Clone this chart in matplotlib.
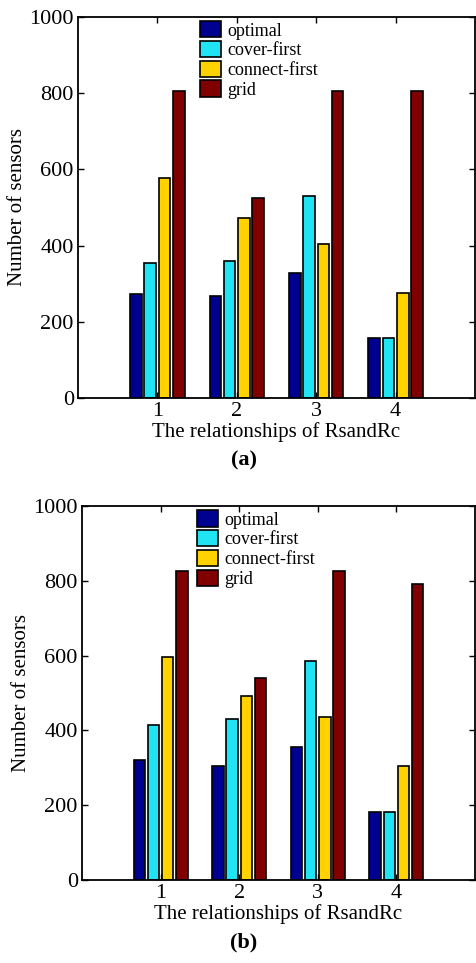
import numpy as np
import matplotlib.pyplot as plt

groups = [1, 2, 3, 4]
series = ["optimal", "cover-first", "connect-first", "grid"]
colors = ["#000090", "#20E4F4", "#FFD200", "#800000"]

# panel (a)
vals_a = {
    "optimal": [273, 268, 327, 157],
    "cover-first": [355, 360, 529, 157],
    "connect-first": [578, 472, 403, 276],
    "grid": [805, 525, 805, 805],
}
# panel (b)
vals_b = {
    "optimal": [320, 305, 356, 183],
    "cover-first": [415, 430, 586, 183],
    "connect-first": [595, 493, 436, 305],
    "grid": [827, 540, 827, 791],
}

plt.rcParams['font.family'] = ['Liberation Serif', 'DejaVu Serif']

fig = plt.figure(figsize=(4.76, 9.63), dpi=100)
W, H = 476, 963


def panel(rect, vals, tag, tag_y, leg_x):
    l, t, r, b = rect
    ax = fig.add_axes([l / W, 1 - b / H, (r - l) / W, (b - t) / H])
    x = np.array(groups, dtype=float)
    offsets = [-0.27, -0.09, 0.09, 0.27]
    for name, off, c in zip(series, offsets, colors):
        ax.bar(x + off, vals[name], width=0.145, color=c, edgecolor="black",
               linewidth=1.2, label=name)
    ax.set_xlim(0, 5)
    ax.set_ylim(0, 1000)
    ax.set_xticks(groups)
    ax.set_yticks([0, 200, 400, 600, 800, 1000])
    ax.tick_params(direction="in", top=True, right=True, labelsize=16,
                   length=4, width=1, pad=3)
    for s in ax.spines.values():
        s.set_linewidth(1.3)
    ax.set_xlabel("The relationships of RsandRc", fontsize=15, labelpad=1)
    ax.set_ylabel("Number of sensors", fontsize=15, labelpad=2)
    ax.legend(loc="upper left", bbox_to_anchor=(leg_x, 1.022), frameon=False,
              fontsize=13, handlelength=1.2, handleheight=1.0,
              labelspacing=0.08, handletextpad=0.3, borderpad=0.2)
    fig.text(244 / W, 1 - tag_y / H, tag, ha="center",
             va="center", fontsize=16, fontweight="bold")
    return ax


panel((78, 17, 475, 398), vals_a, "(a)", 460, 0.275)
panel((82, 506, 475, 880), vals_b, "(b)", 942, 0.26)

fig.savefig("out.png", dpi=100)
